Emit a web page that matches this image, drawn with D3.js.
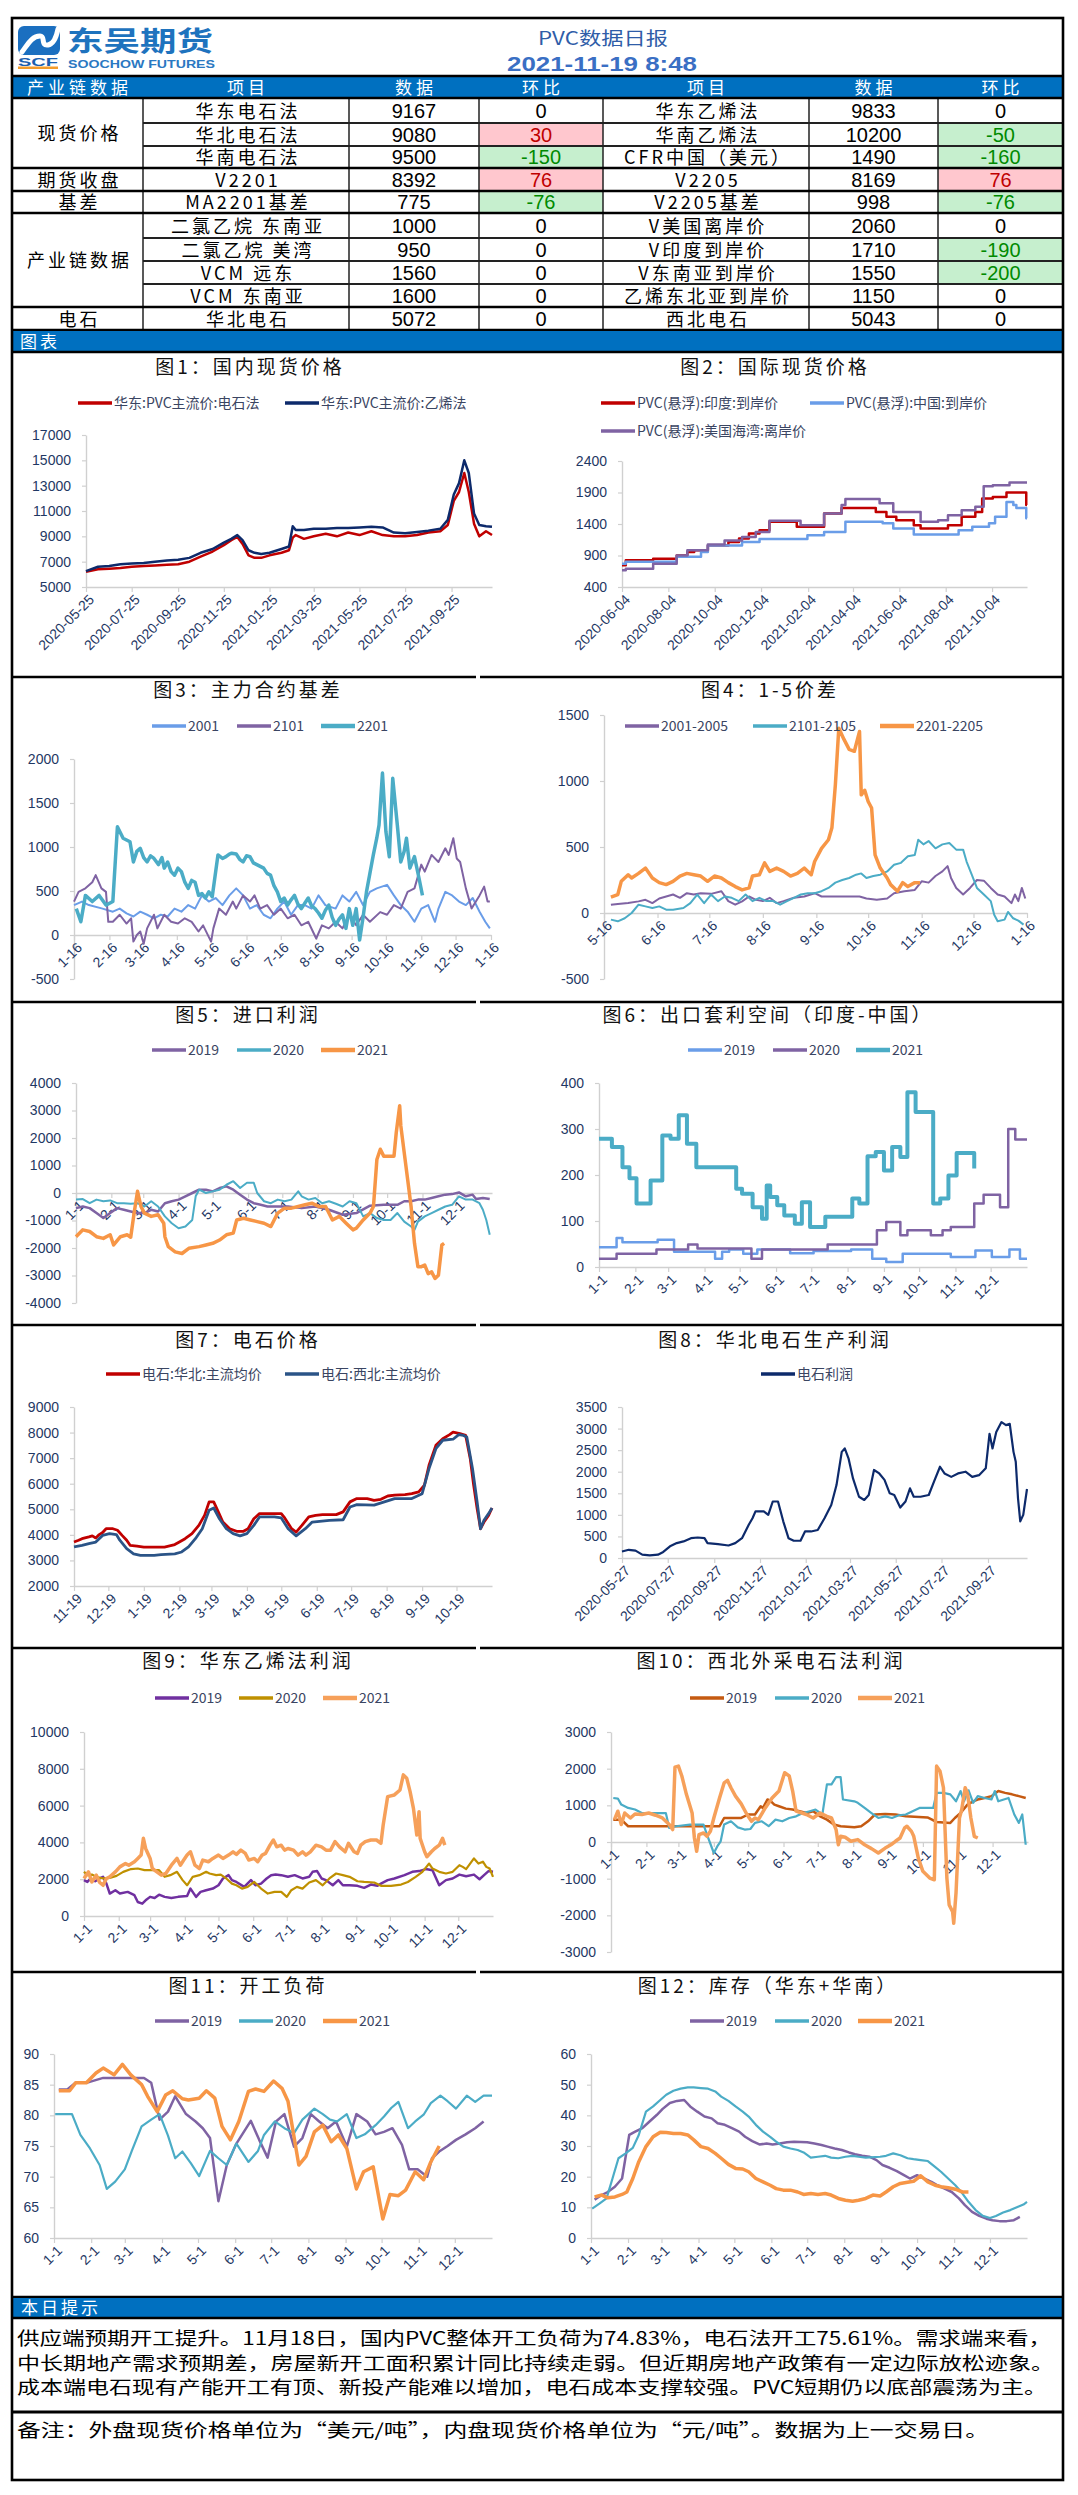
<!DOCTYPE html>
<html>
<head>
<meta charset="utf-8">
<script src="https://cdn.jsdelivr.net/npm/d3@7/dist/d3.min.js"></script>
<style>
  body { margin: 0; background: #fff; }
  svg text { font-family: "Noto Sans CJK SC", "Liberation Sans", sans-serif; }
  .num { font-family: "Liberation Sans", Arial, sans-serif; }
  .ctitle { font-size: 19px; letter-spacing: 3px; fill: #111; }
  .leg { font-size: 14px; fill: #3a4562; }
  .tk { font-family: "Liberation Sans", Arial, sans-serif; font-size: 14px; fill: #1f3864; }
</style>
</head>
<body>
<svg id="page" width="1078" height="2495"></svg>
<script>
// ---------- table data ----------
var headerLabels = ["产业链数据", "项目", "数据", "环比", "项目", "数据", "环比"];
var groupNames = [["现货价格", 0, 3], ["期货收盘", 3, 4], ["基差", 4, 5], ["产业链数据", 5, 9], ["电石", 9, 10]];
var itemsLeft = ["华东电石法", "华北电石法", "华南电石法", "V2201", "MA2201基差", "二氯乙烷 东南亚", "二氯乙烷 美湾", "VCM 远东", "VCM 东南亚", "华北电石"];
var valuesLeft = [9167, 9080, 9500, 8392, 775, 1000, 950, 1560, 1600, 5072];
var changeLeft = [0, 30, -150, 76, -76, 0, 0, 0, 0, 0];
var itemsRight = ["华东乙烯法", "华南乙烯法", "CFR中国（美元）", "V2205", "V2205基差", "V美国离岸价", "V印度到岸价", "V东南亚到岸价", "乙烯东北亚到岸价", "西北电石"];
var valuesRight = [9833, 10200, 1490, 8169, 998, 2060, 1710, 1550, 1150, 5043];
var changeRight = [0, -50, -160, 76, -76, 0, -190, -200, 0, 0];

// ---------- chart 1: 国内现货价格 (days from 2020-05-25) ----------
var c1Ticks = [0, 61, 123, 184, 245, 304, 365, 426, 488];
var c1Labels = ["2020-05-25", "2020-07-25", "2020-09-25", "2020-11-25", "2021-01-25", "2021-03-25", "2021-05-25", "2021-07-25", "2021-09-25"];
var c1Days = [0,16,31,46,61,77,92,108,123,138,153,169,184,194,202,209,217,225,234,245,261,271,276,280,291,304,320,335,350,365,381,396,411,426,442,457,473,483,491,498,505,511,518,525,534,542];
var c1Carbide = [6200,6400,6450,6500,6600,6650,6700,6750,6800,7000,7400,7800,8300,8700,8950,8400,7500,7300,7300,7500,7700,7900,8900,9100,8800,9000,9200,9000,9300,9100,9400,9100,9000,9000,9100,9300,9400,9900,11800,12500,14000,12500,10000,9000,9400,9100];
var c1Ethylene = [6250,6600,6650,6800,6850,6900,7000,7100,7150,7300,7700,8000,8500,8800,9100,8700,7900,7700,7600,7700,8000,8200,9800,9500,9500,9600,9600,9650,9650,9700,9750,9700,9300,9250,9350,9450,9600,10300,12300,13200,15000,14000,10800,9900,9800,9750];

// ---------- chart 2: 国际现货价格 (days from 2020-06-04) ----------
var c2Ticks = [0, 61, 122, 183, 245, 304, 365, 426, 487];
var c2Labels = ["2020-06-04", "2020-08-04", "2020-10-04", "2020-12-04", "2021-02-04", "2021-04-04", "2021-06-04", "2021-08-04", "2021-10-04"];
var indiaCfr = [[0,745],[5,825],[41,850],[72,900],[86,955],[95,985],[113,1060],[140,1115],[154,1170],[167,1250],[181,1300],[194,1435],[230,1355],[266,1565],[289,1655],[334,1590],[348,1515],[361,1460],[384,1380],[393,1330],[429,1380],[447,1515],[465,1590],[474,1805],[488,1830],[506,1900],[532,1700],[533,1700]];
var chinaCfr = [[0,770],[5,800],[72,880],[104,955],[113,1060],[158,1115],[181,1160],[244,1220],[266,1275],[294,1435],[343,1410],[357,1330],[384,1235],[443,1300],[461,1355],[483,1410],[491,1515],[506,1750],[515,1700],[519,1655],[532,1490],[533,1490]];
var usFob = [[0,665],[5,690],[41,770],[72,900],[86,985],[113,1075],[135,1140],[158,1195],[176,1275],[194,1450],[235,1380],[266,1565],[289,1700],[294,1795],[339,1730],[357,1590],[393,1435],[416,1460],[429,1540],[447,1620],[465,1675],[476,2000],[488,2015],[510,2060],[533,2060]];

// ---------- month-day axes ----------
var monthTicks = [0, 31, 59, 90, 120, 151, 181, 212, 243, 273, 304, 334];
var monthLabels = ["1-1", "2-1", "3-1", "4-1", "5-1", "6-1", "7-1", "8-1", "9-1", "10-1", "11-1", "12-1"];

// ---------- chart 3: 主力合约基差 ----------
var c3Ticks = [0, 31, 59, 90, 120, 151, 181, 212, 243, 273, 304, 334, 365];
var c3Labels = ["1-16", "2-16", "3-16", "4-16", "5-16", "6-16", "7-16", "8-16", "9-16", "10-16", "11-16", "12-16", "1-16"];
var basis2001 = [[0,340],[7,380],[13,340],[25,300],[34,265],[40,300],[46,245],[52,210],[58,265],[64,230],[70,190],[76,230],[82,210],[88,300],[94,265],[100,340],[106,300],[112,450],[118,380],[124,420],[130,340],[136,450],[142,530],[148,450],[154,300],[160,340],[166,230],[172,190],[178,300],[184,380],[190,230],[196,340],[202,340],[208,300],[214,450],[220,340],[229,300],[235,450],[241,380],[247,490],[253,340],[259,490],[265,530],[274,570],[280,450],[286,340],[292,265],[298,150],[304,300],[310,340],[316,150],[319,300],[325,490],[331,450],[337,380],[343,340],[349,420],[355,265],[360,150],[364,75]];
var basis2101 = [[0,380],[4,490],[10,530],[16,600],[19,680],[24,530],[28,490],[30,150],[34,150],[40,230],[46,130],[50,190],[52,-75],[55,0],[58,40],[61,-100],[64,75],[70,230],[73,75],[79,230],[85,150],[91,130],[97,190],[103,150],[109,40],[113,110],[120,-75],[122,75],[127,300],[133,230],[139,380],[142,300],[148,450],[154,380],[158,450],[163,300],[169,340],[175,230],[181,300],[187,190],[193,230],[199,110],[205,150],[212,-40],[217,110],[223,75],[229,150],[235,75],[241,230],[247,110],[253,230],[259,150],[268,260],[274,230],[280,340],[286,300],[292,490],[298,530],[304,800],[307,720],[313,910],[319,830],[325,985],[328,910],[332,1100],[335,870],[338,830],[343,530],[348,300],[355,450],[359,550],[362,380],[364,380]];
var basis2201 = [[2,300],[6,150],[10,450],[16,380],[22,450],[28,340],[34,380],[38,1230],[43,1100],[46,1080],[49,1060],[52,830],[55,950],[58,985],[61,880],[64,830],[67,900],[70,870],[74,800],[77,880],[79,760],[82,830],[85,720],[88,680],[91,760],[94,720],[97,600],[100,530],[103,620],[106,600],[109,450],[112,470],[115,420],[118,490],[121,435],[126,910],[130,870],[133,890],[136,920],[138,930],[142,920],[145,860],[148,830],[151,900],[154,890],[157,820],[160,800],[163,780],[166,760],[169,700],[172,680],[175,560],[178,490],[181,380],[184,420],[187,340],[190,400],[193,450],[196,350],[199,300],[202,360],[205,420],[208,330],[211,300],[214,250],[217,190],[220,280],[223,340],[226,200],[229,110],[232,180],[235,230],[238,75],[241,300],[244,110],[247,300],[250,-57],[253,200],[256,490],[259,700],[262,910],[265,1100],[267,1250],[270,1840],[273,1175],[276,890],[279,1780],[283,1250],[286,830],[289,950],[291,1100],[294,760],[298,890],[302,645],[305,450]];

// ---------- chart 4: 1-5价差 ----------
var c4Ticks = [0, 31, 61, 92, 123, 153, 184, 214, 245];
var c4Labels = ["5-16", "6-16", "7-16", "8-16", "9-16", "10-16", "11-16", "12-16", "1-16"];
var spread2001 = [[4,63],[8,68],[14,75],[20,88],[24,100],[28,75],[32,110],[36,125],[40,140],[44,115],[48,150],[52,140],[56,150],[62,145],[68,165],[72,90],[76,63],[80,88],[84,125],[88,100],[92,90],[96,115],[100,75],[104,90],[110,115],[116,125],[122,150],[126,125],[134,125],[142,125],[148,125],[152,110],[158,100],[164,110],[168,150],[174,165],[180,175],[184,240],[188,230],[192,280],[196,315],[199,355],[201,265],[204,190],[208,140],[212,190],[216,250],[220,245],[224,190],[228,140],[232,125],[236,75],[238,140],[240,90],[242,190],[244,110]];
var spread2101 = [[4,-50],[8,-63],[12,-40],[16,0],[20,63],[24,50],[28,38],[32,50],[36,25],[40,25],[46,38],[50,75],[54,140],[58,75],[62,140],[66,90],[70,125],[74,115],[78,90],[82,140],[86,90],[90,115],[94,90],[98,90],[102,63],[106,90],[110,115],[114,140],[118,150],[122,150],[126,165],[130,190],[134,230],[138,250],[142,265],[146,290],[149,300],[152,265],[156,280],[160,290],[164,315],[168,365],[172,380],[176,430],[180,440],[182,555],[185,520],[188,545],[192,490],[196,520],[200,530],[204,480],[208,480],[210,390],[213,290],[216,190],[220,140],[224,90],[226,-13],[228,-63],[232,-50],[234,8],[237,-40],[240,-58],[243,-88]];
var spread2201 = [[4,120],[8,140],[10,240],[14,290],[16,265],[20,300],[24,340],[28,265],[32,230],[36,215],[40,240],[44,280],[48,300],[52,290],[56,280],[60,240],[64,280],[68,265],[72,230],[76,200],[80,175],[84,190],[86,280],[90,290],[93,380],[96,315],[100,340],[104,315],[108,280],[112,300],[116,340],[120,290],[122,390],[126,490],[130,555],[132,645],[134,970],[136,1400],[139,1315],[142,1240],[145,1225],[148,1375],[149,895],[151,930],[153,845],[155,795],[157,440],[160,340],[164,265],[166,215],[170,165],[173,230],[176,200],[180,230],[183,230]];

// ---------- chart 5: 进口利润 ----------
var import2019 = [[0,-550],[6,-490],[12,-550],[18,-730],[24,-910],[30,-730],[36,-550],[42,-610],[48,-670],[54,-730],[60,-730],[66,-610],[72,-670],[78,-370],[84,-300],[90,-240],[96,-120],[102,0],[108,120],[114,120],[120,60],[126,180],[132,240],[138,120],[144,-60],[150,-240],[156,-370],[162,-430],[168,-490],[186,-490],[198,-550],[210,-490],[222,-610],[234,-790],[246,-730],[258,-460],[270,-430],[282,-430],[288,-300],[294,-300],[300,-240],[306,-240],[312,-180],[318,-120],[324,-60],[330,-40],[336,20],[342,-120],[348,-60],[351,-220],[357,-180],[363,-220]];
var import2020 = [[0,-240],[6,-220],[12,-370],[18,-240],[24,-300],[30,-270],[36,-370],[42,-370],[48,-390],[54,-370],[60,-490],[66,-300],[72,-490],[78,-850],[84,-1100],[90,-1280],[96,-1220],[102,-980],[105,-120],[108,120],[114,0],[120,60],[126,120],[132,300],[138,430],[144,180],[150,370],[156,370],[159,0],[165,-300],[171,-370],[177,-240],[183,-300],[189,-240],[195,60],[198,-120],[204,-240],[210,-180],[216,-370],[222,-300],[228,-390],[234,-490],[240,-300],[246,-370],[252,-850],[258,-730],[264,-910],[270,-980],[276,-980],[282,-730],[288,-1040],[294,-1220],[297,-1340],[300,-1040],[306,-850],[312,-730],[318,-610],[324,-490],[330,-430],[336,-120],[342,-240],[348,-240],[354,-370],[357,-610],[360,-980],[363,-1520]];
var import2021 = [[0,-1590],[6,-1340],[12,-1400],[18,-1590],[24,-1650],[30,-1520],[33,-1890],[39,-1590],[45,-1520],[48,-1610],[51,-730],[54,60],[57,-490],[60,-730],[66,-850],[72,-790],[77,-1100],[78,-1590],[81,-1950],[87,-2140],[93,-2200],[99,-2010],[108,-1950],[114,-1890],[120,-1830],[126,-1710],[132,-1520],[138,-1460],[141,-980],[147,-920],[153,-980],[159,-1040],[165,-1100],[171,-1220],[177,-730],[183,-550],[189,-550],[195,-490],[201,-430],[207,-370],[213,-490],[219,-490],[225,-980],[231,-850],[237,-1100],[243,-1340],[246,-1280],[252,-980],[258,-730],[261,-490],[264,1220],[267,1590],[270,1340],[279,1340],[281,2200],[284,3170],[285,2440],[288,1460],[291,490],[294,-490],[297,-1830],[300,-2680],[303,-2680],[306,-2620],[309,-2930],[312,-2870],[315,-3110],[318,-2990],[321,-1890],[323,-1830]];

// ---------- chart 6: 出口套利空间 (step data) ----------
var arb2019 = [[0,43],[15,63],[20,54],[50,59],[64,33],[99,18],[105,33],[111,38],[123,29],[135,38],[163,30],[183,35],[215,38],[233,18],[245,11],[259,29],[300,22],[321,36],[335,22],[350,38],[359,18],[365,18]];
var arb2020 = [[0,18],[15,29],[49,38],[76,49],[84,40],[130,18],[139,38],[195,49],[237,80],[245,98],[257,69],[263,80],[283,69],[293,80],[300,87],[320,138],[328,157],[342,130],[349,300],[355,277],[365,277]];
var arb2021 = [[0,279],[11,261],[20,217],[26,193],[32,138],[44,188],[54,286],[61,279],[68,330],[75,268],[83,217],[117,170],[122,159],[131,130],[139,105],[143,177],[146,152],[152,134],[158,112],[167,94],[173,141],[180,87],[193,109],[216,149],[222,138],[229,241],[236,250],[243,210],[250,261],[257,239],[263,380],[270,337],[285,138],[291,149],[298,199],[305,248],[320,214]];

// ---------- chart 7: 电石价格 ----------
var c7Ticks = [0, 30, 61, 92, 120, 151, 181, 212, 242, 273, 304, 334];
var c7Labels = ["11-19", "12-19", "1-19", "2-19", "3-19", "4-19", "5-19", "6-19", "7-19", "8-19", "9-19", "10-19"];
var carbideNorth = [[0,3720],[4,3790],[7,3850],[13,3920],[16,3960],[19,3880],[22,4010],[25,4090],[28,4240],[34,4240],[38,4180],[42,3980],[46,3790],[49,3590],[55,3560],[61,3520],[79,3520],[88,3620],[92,3720],[97,3850],[103,4050],[109,4370],[114,4760],[118,5290],[122,5290],[126,4900],[130,4500],[136,4240],[142,4140],[148,4140],[152,4240],[157,4630],[162,4830],[181,4830],[184,4660],[190,4240],[194,4110],[199,4370],[205,4700],[211,4760],[217,4790],[229,4790],[235,4900],[241,5290],[247,5420],[256,5420],[262,5350],[268,5390],[274,5520],[280,5550],[289,5570],[295,5610],[301,5680],[306,5940],[310,6720],[316,7500],[322,7760],[328,7920],[331,8020],[337,7960],[342,7890],[346,6980],[349,5940],[352,5030],[355,4240],[358,4500],[362,4760],[365,5050]];
var carbideNorthwest = [[0,3530],[7,3590],[13,3660],[19,3720],[25,3980],[31,4050],[37,4010],[40,3790],[46,3460],[52,3260],[58,3200],[70,3200],[76,3230],[88,3260],[94,3330],[100,3530],[106,3850],[112,4240],[118,4960],[122,5050],[127,4630],[133,4240],[139,4050],[145,3960],[151,4050],[157,4370],[162,4700],[175,4700],[181,4660],[187,4240],[194,3960],[202,4240],[208,4500],[223,4570],[235,4590],[241,5090],[247,5180],[262,5160],[271,5290],[280,5420],[295,5420],[304,5610],[310,6590],[316,7370],[322,7700],[331,7740],[336,7920],[340,7890],[343,7830],[348,6590],[352,5290],[355,4240],[358,4570],[362,4830],[365,5050]];

// ---------- chart 8: 华北电石生产利润 (days from 2020-05-27) ----------
var c8Labels = ["2020-05-27", "2020-07-27", "2020-09-27", "2020-11-27", "2021-01-27", "2021-03-27", "2021-05-27", "2021-07-27", "2021-09-27"];
var carbideProfit = [[0,150],[9,190],[18,170],[27,77],[37,60],[48,77],[55,140],[64,270],[73,345],[82,385],[92,460],[101,475],[110,460],[114,345],[128,320],[142,290],[151,345],[160,460],[169,770],[174,920],[178,1080],[189,1080],[195,1000],[201,1310],[208,1310],[215,850],[222,460],[229,400],[238,400],[244,615],[252,615],[261,650],[270,920],[279,1230],[286,1690],[293,2460],[297,2540],[302,2310],[308,1845],[316,1420],[323,1345],[329,1460],[336,2040],[343,1960],[350,1810],[357,1500],[363,1460],[371,1170],[378,1310],[384,1615],[389,1420],[398,1420],[409,1460],[416,1770],[424,2115],[430,1960],[439,1880],[448,1960],[458,2000],[467,1880],[476,1920],[485,2080],[490,2880],[494,2540],[499,2920],[506,3150],[512,3080],[517,3110],[522,2460],[525,2230],[528,1385],[531,850],[535,1000],[540,1600]];

// ---------- chart 9: 华东乙烯法利润 ----------
var eth2019 = [[0,1950],[3,1850],[6,2040],[10,1890],[14,2040],[17,2130],[20,1760],[23,1220],[28,1400],[32,1220],[39,1310],[45,1130],[48,760],[52,670],[55,850],[59,1040],[63,980],[67,1160],[72,1040],[78,980],[84,1040],[92,1090],[95,1490],[100,1040],[104,1310],[109,1400],[115,1490],[120,1670],[124,2040],[129,2220],[132,1950],[136,1850],[143,1580],[149,1950],[153,1670],[158,1760],[163,2040],[167,2220],[171,2250],[176,2220],[182,2130],[188,2220],[195,2040],[201,2130],[204,2400],[208,2440],[212,2040],[216,1950],[222,1670],[227,1950],[231,1670],[237,1670],[244,1640],[250,1530],[256,1710],[262,1640],[265,1760],[271,1950],[277,2040],[286,2220],[293,2400],[299,2440],[305,2550],[311,2490],[317,1670],[323,1950],[329,2040],[335,2250],[341,2160],[348,2250],[353,2000],[357,2220],[361,2440],[365,2400]];
var eth2020 = [[0,2400],[3,2220],[7,2250],[11,2130],[17,2040],[23,2070],[29,2180],[35,2400],[42,2550],[48,2580],[54,2490],[67,2490],[72,2130],[77,2220],[83,2400],[88,1950],[92,1670],[97,2130],[103,2220],[109,2400],[112,2310],[118,2220],[122,2250],[127,2040],[132,1760],[136,1670],[141,1490],[146,1580],[152,1850],[158,1490],[164,1220],[170,1310],[176,1310],[181,1040],[185,1400],[190,1580],[195,1490],[201,1820],[207,1950],[213,1670],[219,2040],[225,2310],[231,2220],[237,2130],[244,1890],[250,1850],[259,1820],[265,1640],[274,1640],[283,1710],[289,1850],[296,2130],[302,2400],[308,2850],[311,2580],[317,2400],[323,2310],[329,2400],[335,2760],[338,2670],[341,2550],[348,3130],[352,2850],[356,2950],[359,2670],[362,2580],[365,2130]];
var eth2021 = [[0,2040],[4,2400],[7,1850],[11,2220],[14,1820],[17,1670],[20,2040],[23,2130],[28,2400],[32,2670],[37,2850],[40,2760],[45,2950],[48,3130],[51,3310],[53,4220],[55,3670],[59,3130],[61,2580],[65,2400],[69,2220],[73,2310],[78,2760],[83,3130],[86,2760],[89,3040],[92,3310],[95,3490],[99,2760],[103,2580],[106,3040],[111,2950],[115,3130],[120,3310],[124,3130],[129,3310],[133,3490],[136,3350],[140,3580],[144,3400],[147,3040],[152,3130],[155,2950],[159,3310],[162,3400],[166,3850],[169,4130],[172,3760],[176,3850],[179,3580],[182,3670],[187,3580],[191,3310],[195,3490],[198,3310],[202,3490],[207,3850],[212,3760],[216,3580],[220,3580],[224,4040],[228,3760],[233,3490],[236,3950],[241,3490],[244,3400],[247,3850],[251,4040],[256,4130],[261,4130],[265,3950],[267,4950],[271,6490],[277,6580],[282,6850],[285,7670],[288,7490],[291,6760],[294,5850],[297,4400],[299,5670],[300,4220],[304,3490],[306,3220],[310,3490],[313,3670],[317,3850],[320,4220],[322,3850]];

// ---------- chart 10: 西北外采电石法利润 ----------
var nw2019 = [[2,610],[9,610],[15,430],[95,430],[99,655],[114,655],[120,750],[126,750],[131,975],[133,930],[137,1160],[140,1110],[143,1020],[147,975],[153,910],[159,885],[165,840],[171,790],[177,840],[183,700],[189,610],[195,475],[201,430],[213,400],[219,430],[225,565],[231,750],[240,765],[249,750],[258,700],[277,670],[281,610],[285,545],[297,520],[301,655],[306,790],[312,1020],[317,1110],[321,1160],[327,1200],[333,1250],[339,1390],[345,1340],[351,1300],[357,1250],[363,1200]];
var nw2020 = [[2,1200],[6,1185],[9,1020],[15,930],[21,885],[27,790],[48,790],[51,385],[57,430],[69,475],[81,475],[84,200],[90,-300],[93,-120],[96,20],[99,475],[105,565],[111,400],[117,340],[122,355],[126,520],[132,565],[138,430],[144,610],[150,565],[156,655],[162,700],[168,790],[174,840],[179,885],[185,750],[189,1570],[193,1570],[197,1770],[201,1770],[203,1160],[213,1110],[216,1070],[222,930],[228,790],[234,655],[240,700],[246,655],[252,730],[258,750],[264,840],[270,930],[282,930],[285,1340],[291,1340],[297,1300],[302,1110],[306,1390],[309,1110],[313,1410],[317,1070],[321,1250],[327,1200],[333,1160],[336,1390],[339,1110],[348,1200],[353,750],[357,520],[360,750],[363,-75]];
var nw2021 = [[3,610],[6,840],[9,475],[12,790],[17,655],[21,765],[27,750],[33,790],[39,730],[45,655],[51,475],[54,340],[56,2040],[59,2070],[62,1800],[66,1300],[71,790],[73,110],[75,-255],[77,200],[81,245],[84,155],[87,290],[90,655],[95,1200],[99,1610],[102,1680],[105,1480],[109,1250],[114,1040],[119,750],[123,565],[126,655],[129,610],[135,930],[141,1200],[147,1390],[152,1890],[156,1800],[159,1390],[162,840],[167,790],[171,750],[177,655],[183,790],[189,700],[193,655],[197,340],[199,-75],[201,155],[205,130],[210,20],[216,65],[222,-75],[228,-180],[234,-300],[240,-165],[245,-75],[249,20],[253,110],[257,385],[259,430],[263,290],[265,155],[269,-440],[273,-800],[279,-985],[283,-1030],[285,2070],[288,1930],[291,1480],[294,-985],[296,-1715],[299,-1900],[300,-2215],[302,-1390],[305,655],[307,885],[310,1480],[312,1340],[315,655],[318,155],[321,110]];

// ---------- chart 11: 开工负荷 ----------
var load2019 = [[4,84.2],[11,84.2],[18,85.3],[27,85.3],[41,86.1],[75,86.1],[81,85.3],[88,79.3],[95,80.6],[101,83.1],[110,80.2],[118,79.0],[124,77.9],[130,76.3],[137,66.0],[144,71.9],[152,75.4],[164,79.1],[171,76.0],[178,73.1],[185,79.0],[192,80.2],[200,74.9],[207,76.3],[214,80.2],[221,79.0],[228,77.9],[235,79.0],[244,74.9],[252,80.2],[261,79.0],[268,76.9],[275,77.3],[282,77.9],[290,75.2],[296,71.2],[303,71.2],[311,70.0],[315,73.0],[321,74.1],[328,75.0],[335,76.0],[343,76.9],[351,77.9],[358,79.0]];
var load2020 = [[1,80.2],[15,80.2],[22,76.8],[30,74.6],[38,71.9],[44,68.0],[51,69.2],[59,71.2],[65,74.3],[73,78.2],[81,79.3],[88,80.2],[95,76.7],[101,73.0],[107,74.1],[114,72.2],[121,70.1],[130,74.2],[137,73.0],[144,71.9],[152,75.4],[162,72.4],[170,74.2],[175,76.8],[184,79.0],[192,77.9],[200,77.1],[207,79.3],[217,81.1],[224,80.2],[230,79.3],[236,79.0],[244,80.2],[252,76.3],[259,76.9],[268,78.4],[275,79.8],[281,81.2],[287,82.2],[295,77.9],[301,79.0],[308,80.1],[314,82.0],[322,83.2],[328,82.3],[335,81.1],[344,83.2],[351,82.2],[358,83.2],[365,83.2]];
var load2021 = [[4,84.0],[13,84.0],[18,85.3],[27,85.3],[35,86.9],[41,87.7],[50,86.6],[57,88.3],[64,86.6],[73,85.0],[78,83.1],[86,80.6],[93,83.3],[99,84.0],[107,82.7],[112,82.5],[121,82.8],[127,84.0],[134,82.8],[140,78.2],[147,76.0],[154,79.0],[162,83.9],[168,84.3],[175,83.9],[183,85.6],[190,84.4],[195,82.3],[204,71.9],[210,73.3],[217,77.3],[224,78.4],[231,75.7],[237,76.8],[244,74.6],[252,68.0],[258,70.8],[266,71.6],[274,63.1],[280,67.1],[287,66.9],[293,67.8],[301,70.8],[308,69.5],[314,72.4],[321,75.0]];

// ---------- chart 12: 库存（华东+华南） ----------
var inv2019 = [[3,12.5],[9,14.0],[14,15.0],[20,16.7],[26,19.4],[32,33.6],[37,34.7],[43,35.8],[49,38.0],[55,40.1],[60,42.1],[66,44.0],[72,44.7],[78,45.0],[83,42.9],[89,41.2],[95,39.6],[101,39.0],[106,37.4],[112,36.9],[118,35.8],[124,34.7],[129,33.0],[135,31.6],[141,30.5],[147,30.8],[152,30.5],[158,30.8],[164,31.2],[170,31.4],[181,31.2],[187,30.8],[193,30.3],[198,29.8],[204,29.2],[210,28.7],[216,27.9],[221,27.3],[227,26.8],[233,26.5],[239,25.4],[244,23.8],[250,22.9],[256,21.8],[262,20.5],[267,19.4],[273,20.5],[279,19.4],[285,18.3],[290,17.2],[296,16.1],[302,15.0],[308,12.9],[313,10.7],[319,8.5],[325,7.2],[331,6.3],[336,5.8],[342,5.5],[348,5.5],[354,5.8],[359,6.9]];
var inv2020 = [[1,9.6],[7,11.2],[13,12.9],[18,19.4],[23,26.0],[29,27.6],[35,29.4],[40,33.6],[46,41.2],[52,42.9],[58,45.0],[63,46.7],[69,48.0],[75,48.7],[81,49.1],[86,49.1],[92,48.9],[98,48.7],[104,47.8],[109,46.1],[115,44.7],[121,42.9],[127,41.2],[132,39.6],[138,36.9],[144,34.7],[150,33.0],[155,31.4],[161,29.8],[167,29.2],[173,28.7],[178,27.9],[184,26.2],[190,26.5],[196,26.8],[201,26.2],[207,26.0],[213,26.5],[219,26.8],[224,26.5],[230,26.2],[242,26.5],[247,26.8],[253,27.6],[259,27.0],[265,26.0],[270,25.7],[276,25.4],[282,25.1],[288,23.2],[293,21.6],[299,19.4],[305,17.2],[311,14.5],[316,11.8],[322,9.1],[328,7.2],[334,6.5],[339,7.2],[345,8.3],[351,9.1],[357,10.1],[362,10.9],[365,11.8]];
var inv2021 = [[3,13.4],[9,14.0],[14,13.1],[20,13.4],[26,14.2],[30,15.0],[35,19.4],[40,24.9],[46,29.8],[52,33.0],[58,34.5],[63,34.4],[69,34.1],[75,34.1],[81,33.6],[86,32.0],[92,29.8],[98,29.2],[104,27.6],[109,26.0],[115,24.0],[121,22.7],[127,22.5],[132,21.6],[138,19.4],[144,18.3],[150,17.2],[155,16.1],[161,15.6],[167,15.6],[173,15.0],[178,14.2],[184,14.5],[190,14.2],[196,14.5],[201,14.0],[207,12.9],[213,12.3],[219,12.0],[224,12.3],[230,12.9],[236,14.0],[242,13.7],[247,15.0],[253,16.7],[259,17.8],[265,18.2],[270,18.5],[276,20.3],[282,18.3],[288,17.2],[293,16.7],[299,16.4],[305,15.9],[311,15.0],[316,15.0]];

// ---------- bottom texts ----------
var noteLines = [
  "供应端预期开工提升。11月18日，国内PVC整体开工负荷为74.83%，电石法开工75.61%。需求端来看，",
  "中长期地产需求预期差，房屋新开工面积累计同比持续走弱。但近期房地产政策有一定边际放松迹象。",
  "成本端电石现有产能开工有顶、新投产能难以增加，电石成本支撑较强。PVC短期仍以底部震荡为主。"
];
var remarkText = "备注：外盘现货价格单位为“美元/吨”，内盘现货价格单位为“元/吨”。数据为上一交易日。";

// ================= drawing =================
var svg = d3.select("#page");
svg.append("rect").attr("width", 1078).attr("height", 2495).attr("fill", "#fff");
var BLUE = "#0070c0";

function hline(x1, x2, y, w, c) {
  svg.append("line").attr("x1", x1).attr("x2", x2).attr("y1", y).attr("y2", y)
    .attr("stroke", c || "#000").attr("stroke-width", w);
}
function vline(x, y1, y2, w, c) {
  svg.append("line").attr("x1", x).attr("x2", x).attr("y1", y1).attr("y2", y2)
    .attr("stroke", c || "#000").attr("stroke-width", w);
}

// header: logo
var logo = svg.append("g");
logo.append("rect").attr("x", 18).attr("y", 26).attr("width", 42).attr("height", 29).attr("rx", 6).attr("fill", "#1b6fc0");
logo.append("path").attr("d", "M22 52 C28 44, 32 36, 40 36 C46 36, 40 46, 48 45 C54 44, 57 34, 58 29")
  .attr("stroke", "#fff").attr("stroke-width", 5).attr("fill", "none").attr("stroke-linecap", "round");
logo.append("text").attr("x", 18).attr("y", 65.5).attr("textLength", 40).attr("lengthAdjust", "spacingAndGlyphs")
  .attr("class", "num").style("font-size", "11px").style("font-weight", "bold").attr("fill", "#1b5fb0").text("SCF");
logo.append("rect").attr("x", 18).attr("y", 66.5).attr("width", 40).attr("height", 2.5).attr("fill", "#f39c2b");
logo.append("text").attr("x", 67).attr("y", 51).attr("textLength", 146).attr("lengthAdjust", "spacingAndGlyphs")
  .style("font-size", "27px").style("font-weight", "bold").attr("fill", "#1e73be").text("东吴期货");
logo.append("text").attr("x", 68).attr("y", 68).attr("textLength", 147).attr("lengthAdjust", "spacingAndGlyphs")
  .attr("class", "num").style("font-size", "11px").style("font-weight", "bold").attr("fill", "#2a78c2").text("SOOCHOW FUTURES");

svg.append("text").attr("x", 538).attr("y", 45).attr("textLength", 130).attr("lengthAdjust", "spacingAndGlyphs")
  .style("font-size", "18px").attr("fill", "#2f5da8").text("PVC数据日报");
svg.append("text").attr("x", 507).attr("y", 71).attr("textLength", 190).attr("lengthAdjust", "spacingAndGlyphs")
  .attr("class", "num").style("font-size", "21px").style("font-weight", "bold").attr("fill", "#3a6fc4").text("2021-11-19 8:48");

// table
var colX = [12, 143, 349, 479, 603, 809, 938, 1063];
var rowY = [98, 123, 146, 168, 191, 213, 238, 261, 284, 307, 330];
svg.append("rect").attr("x", 12).attr("y", 76).attr("width", 1051).attr("height", 22).attr("fill", BLUE);
headerLabels.forEach(function(t, i) {
  svg.append("text").attr("x", (colX[i] + colX[i + 1]) / 2 + 2).attr("y", 94).attr("text-anchor", "middle")
    .style("font-size", "17px").style("letter-spacing", "4px").attr("fill", "#fff").text(t);
});
function cellText(t, cx, cy, color) {
  var isNum = typeof t === "number";
  svg.append("text").attr("x", cx + (isNum ? 0 : 2)).attr("y", cy + 7).attr("text-anchor", "middle")
    .attr("class", isNum ? "num" : null)
    .style("font-size", isNum ? "20px" : "18px").style("letter-spacing", isNum ? "0px" : "3px")
    .attr("fill", color || "#000").text(t);
}
function changeCell(v, ci, r) {
  var top = rowY[r], bot = rowY[r + 1];
  var color = "#000";
  if (v > 0) {
    svg.append("rect").attr("x", colX[ci]).attr("y", top).attr("width", colX[ci + 1] - colX[ci]).attr("height", bot - top).attr("fill", "#ffc7ce");
    color = "#c00000";
  } else if (v < 0) {
    svg.append("rect").attr("x", colX[ci]).attr("y", top).attr("width", colX[ci + 1] - colX[ci]).attr("height", bot - top).attr("fill", "#c6efce");
    color = "#008a00";
  }
  cellText(v, (colX[ci] + colX[ci + 1]) / 2, (top + bot) / 2, color);
}
for (var r = 0; r < 10; r++) {
  var mid = (rowY[r] + rowY[r + 1]) / 2;
  changeCell(changeLeft[r], 3, r);
  changeCell(changeRight[r], 6, r);
  cellText(itemsLeft[r], (colX[1] + colX[2]) / 2, mid);
  cellText(valuesLeft[r], (colX[2] + colX[3]) / 2, mid);
  cellText(itemsRight[r], (colX[4] + colX[5]) / 2, mid);
  cellText(valuesRight[r], (colX[5] + colX[6]) / 2, mid);
}
groupNames.forEach(function(g) {
  cellText(g[0], (colX[0] + colX[1]) / 2, (rowY[g[1]] + rowY[g[2]]) / 2);
});
[123, 146, 238, 261, 284].forEach(function(y) { hline(143, 1063, y, 1.8, "#222"); });
for (var c = 1; c < 7; c++) vline(colX[c], 98, 330, 1.5, "#222");
[76, 98, 168, 191, 213, 307, 330].forEach(function(y) { hline(12, 1063, y, 2.6); });

// section bars
svg.append("rect").attr("x", 12).attr("y", 331).attr("width", 1051).attr("height", 21).attr("fill", BLUE);
svg.append("text").attr("x", 20).attr("y", 348).style("font-size", "17px").style("letter-spacing", "3px").attr("fill", "#fff").text("图表");
hline(12, 1063, 352, 2.6);

// ---------- chart renderer ----------
function drawChart(c) {
  var g = svg.append("g");
  var x = d3.scaleLinear().domain(c.xDomain).range([c.left, c.right]);
  var y = d3.scaleLinear().domain(c.yDomain).range([c.bottom, c.top]);
  g.append("text").attr("class", "ctitle").attr("x", c.titleX).attr("y", c.titleY).attr("text-anchor", "middle").text(c.title);

  var ya = g.append("g").attr("transform", "translate(" + c.left + ",0)")
    .call(d3.axisLeft(y).tickValues(c.yTicks).tickFormat(function(d) { return String(d); })
      .tickSize(4).tickSizeOuter(0).tickPadding(11));
  var base = y(c.xAt !== undefined ? c.xAt : c.yDomain[0]);
  var xa = g.append("g").attr("transform", "translate(0," + base + ")")
    .call(d3.axisBottom(x).tickValues(c.xTicks).tickFormat(function(d, i) { return c.xLabels[i]; }).tickSize(5).tickSizeOuter(0));
  [ya, xa].forEach(function(a) {
    a.attr("font-family", null).attr("font-size", null);
    a.select(".domain").attr("stroke", "#d0d0d0").attr("stroke-width", 1.4);
    a.selectAll(".tick line").attr("stroke", "#d0d0d0").attr("stroke-width", 1.2);
    a.selectAll(".tick text").attr("class", "tk").attr("fill", "#1f3864");
  });
  xa.selectAll(".tick text").attr("text-anchor", "end").attr("x", null).attr("y", null)
    .attr("dy", "0.35em").attr("transform", "translate(5,10) rotate(-45)");

  c.series.forEach(function(s) {
    var line = d3.line().x(function(d) { return x(d[0]); }).y(function(d) { return y(d[1]); })
      .curve(s.step ? d3.curveStepAfter : d3.curveLinear);
    g.append("path").datum(s.data).attr("d", line).attr("fill", "none")
      .attr("stroke", s.color).attr("stroke-width", s.width).attr("stroke-linejoin", "round");
  });
  c.legend.forEach(function(p, i) {
    var s = c.series[i];
    g.append("line").attr("x1", p[0]).attr("x2", p[0] + 34).attr("y1", p[1]).attr("y2", p[1])
      .attr("stroke", s.color).attr("stroke-width", s.width > 3 ? 4.5 : 3.5);
    g.append("text").attr("class", "leg").attr("x", p[0] + 36).attr("y", p[1] + 5).text(s.name);
  });
}

function pairs(xs, vs) { return xs.map(function(d, i) { return [d, vs[i]]; }); }

var RED = "#c00000", NAVY = "#0d2a6b", LBLUE = "#6a9de8", PURPLE = "#7f63a3", TEAL = "#4bacc6", ORANGE = "#f79646";

drawChart({ title: "图1：国内现货价格", titleX: 250, titleY: 374,
  left: 86, right: 492, top: 435, bottom: 587, xDomain: [0, 542], yDomain: [5000, 17000],
  yTicks: [5000, 7000, 9000, 11000, 13000, 15000, 17000], xTicks: c1Ticks, xLabels: c1Labels,
  series: [
    { name: "华东:PVC主流价:电石法", color: RED, width: 2.5, data: pairs(c1Days, c1Carbide) },
    { name: "华东:PVC主流价:乙烯法", color: NAVY, width: 2.5, data: pairs(c1Days, c1Ethylene) }],
  legend: [[78, 403], [285, 403]] });

drawChart({ title: "图2：国际现货价格", titleX: 775, titleY: 374,
  left: 622, right: 1027, top: 461, bottom: 587, xDomain: [0, 533], yDomain: [400, 2400],
  yTicks: [400, 900, 1400, 1900, 2400], xTicks: c2Ticks, xLabels: c2Labels,
  series: [
    { name: "PVC(悬浮):印度:到岸价", color: RED, width: 2.5, data: indiaCfr, step: true },
    { name: "PVC(悬浮):中国:到岸价", color: LBLUE, width: 2.5, data: chinaCfr, step: true },
    { name: "PVC(悬浮):美国海湾:离岸价", color: PURPLE, width: 2.5, data: usFob, step: true }],
  legend: [[601, 403], [810, 403], [601, 431]] });

drawChart({ title: "图3：主力合约基差", titleX: 248, titleY: 697,
  left: 74, right: 491, top: 759, bottom: 979, xDomain: [0, 365], yDomain: [-500, 2000], xAt: 0,
  yTicks: [-500, 0, 500, 1000, 1500, 2000], xTicks: c3Ticks, xLabels: c3Labels,
  series: [
    { name: "2001", color: LBLUE, width: 2, data: basis2001 },
    { name: "2101", color: PURPLE, width: 2, data: basis2101 },
    { name: "2201", color: TEAL, width: 3.5, data: basis2201 }],
  legend: [[152, 726], [237, 726], [321, 726]] });

drawChart({ title: "图4：1-5价差", titleX: 770, titleY: 697,
  left: 604, right: 1027, top: 715, bottom: 979, xDomain: [0, 245], yDomain: [-500, 1500], xAt: 0,
  yTicks: [-500, 0, 500, 1000, 1500], xTicks: c4Ticks, xLabels: c4Labels,
  series: [
    { name: "2001-2005", color: PURPLE, width: 2, data: spread2001 },
    { name: "2101-2105", color: TEAL, width: 2, data: spread2101 },
    { name: "2201-2205", color: ORANGE, width: 3.5, data: spread2201 }],
  legend: [[625, 726], [753, 726], [880, 726]] });

drawChart({ title: "图5：进口利润", titleX: 248, titleY: 1022,
  left: 76, right: 492, top: 1083, bottom: 1303, xDomain: [0, 365], yDomain: [-4000, 4000], xAt: 0,
  yTicks: [-4000, -3000, -2000, -1000, 0, 1000, 2000, 3000, 4000], xTicks: monthTicks, xLabels: monthLabels,
  series: [
    { name: "2019", color: PURPLE, width: 2.5, data: import2019 },
    { name: "2020", color: TEAL, width: 2, data: import2020 },
    { name: "2021", color: ORANGE, width: 3.5, data: import2021 }],
  legend: [[152, 1050], [237, 1050], [321, 1050]] });

drawChart({ title: "图6：出口套利空间（印度-中国）", titleX: 768, titleY: 1022,
  left: 599, right: 1027, top: 1083, bottom: 1267, xDomain: [0, 365], yDomain: [0, 400],
  yTicks: [0, 100, 200, 300, 400], xTicks: monthTicks, xLabels: monthLabels,
  series: [
    { name: "2019", color: LBLUE, width: 2.5, data: arb2019, step: true },
    { name: "2020", color: PURPLE, width: 2.5, data: arb2020, step: true },
    { name: "2021", color: TEAL, width: 4, data: arb2021, step: true }],
  legend: [[688, 1050], [773, 1050], [856, 1050]] });

drawChart({ title: "图7：电石价格", titleX: 248, titleY: 1347,
  left: 74, right: 492, top: 1407, bottom: 1586, xDomain: [0, 365], yDomain: [2000, 9000],
  yTicks: [2000, 3000, 4000, 5000, 6000, 7000, 8000, 9000], xTicks: c7Ticks, xLabels: c7Labels,
  series: [
    { name: "电石:华北:主流均价", color: RED, width: 2.8, data: carbideNorth },
    { name: "电石:西北:主流均价", color: "#2b5487", width: 2.8, data: carbideNorthwest }],
  legend: [[106, 1374], [285, 1374]] });

drawChart({ title: "图8：华北电石生产利润", titleX: 775, titleY: 1347,
  left: 622, right: 1027, top: 1407, bottom: 1558, xDomain: [0, 540], yDomain: [0, 3500],
  yTicks: [0, 500, 1000, 1500, 2000, 2500, 3000, 3500], xTicks: c1Ticks, xLabels: c8Labels,
  series: [{ name: "电石利润", color: NAVY, width: 2.2, data: carbideProfit }],
  legend: [[761, 1374]] });

drawChart({ title: "图9：华东乙烯法利润", titleX: 248, titleY: 1668,
  left: 84, right: 493, top: 1732, bottom: 1916, xDomain: [0, 365], yDomain: [0, 10000],
  yTicks: [0, 2000, 4000, 6000, 8000, 10000], xTicks: monthTicks, xLabels: monthLabels,
  series: [
    { name: "2019", color: "#7030a0", width: 2.5, data: eth2019 },
    { name: "2020", color: "#bf9000", width: 2.2, data: eth2020 },
    { name: "2021", color: "#f6a05a", width: 3.5, data: eth2021 }],
  legend: [[155, 1698], [239, 1698], [323, 1698]] });

drawChart({ title: "图10：西北外采电石法利润", titleX: 771, titleY: 1668,
  left: 611, right: 1028, top: 1732, bottom: 1952, xDomain: [0, 365], yDomain: [-3000, 3000], xAt: 0,
  yTicks: [-3000, -2000, -1000, 0, 1000, 2000, 3000], xTicks: monthTicks, xLabels: monthLabels,
  series: [
    { name: "2019", color: "#c55a11", width: 2.5, data: nw2019 },
    { name: "2020", color: TEAL, width: 2.2, data: nw2020 },
    { name: "2021", color: "#f6a05a", width: 3.5, data: nw2021 }],
  legend: [[690, 1698], [775, 1698], [858, 1698]] });

drawChart({ title: "图11：开工负荷", titleX: 248, titleY: 1993,
  left: 54, right: 492, top: 2054, bottom: 2238, xDomain: [0, 365], yDomain: [60, 90],
  yTicks: [60, 65, 70, 75, 80, 85, 90], xTicks: monthTicks, xLabels: monthLabels,
  series: [
    { name: "2019", color: PURPLE, width: 2.5, data: load2019 },
    { name: "2020", color: TEAL, width: 2.2, data: load2020 },
    { name: "2021", color: ORANGE, width: 3.5, data: load2021 }],
  legend: [[155, 2021], [239, 2021], [323, 2021]] });

drawChart({ title: "图12：库存（华东+华南）", titleX: 768, titleY: 1993,
  left: 591, right: 1027, top: 2054, bottom: 2238, xDomain: [0, 365], yDomain: [0, 60],
  yTicks: [0, 10, 20, 30, 40, 50, 60], xTicks: monthTicks, xLabels: monthLabels,
  series: [
    { name: "2019", color: PURPLE, width: 2.5, data: inv2019 },
    { name: "2020", color: TEAL, width: 2.2, data: inv2020 },
    { name: "2021", color: ORANGE, width: 3.5, data: inv2021 }],
  legend: [[690, 2021], [775, 2021], [858, 2021]] });

// chart row separators (with small gap at the middle divider)
[677, 1002, 1325, 1648, 1972].forEach(function(y) {
  hline(12, 476, y, 2.6);
  hline(480, 1063, y, 2.6);
});

// bottom notes
hline(12, 1063, 2297, 2.6);
svg.append("rect").attr("x", 12).attr("y", 2298).attr("width", 1051).attr("height", 20).attr("fill", BLUE);
svg.append("text").attr("x", 21).attr("y", 2314).style("font-size", "17px").style("letter-spacing", "3px").attr("fill", "#fff").text("本日提示");
hline(12, 1063, 2318, 2.6);
var lineWidths = [1034, 1037, 1030];
noteLines.forEach(function(t, i) {
  svg.append("text").attr("x", 17).attr("y", 2345 + i * 24.5).attr("textLength", lineWidths[i]).attr("lengthAdjust", "spacingAndGlyphs")
    .style("font-size", "18px").attr("fill", "#000").text(t);
});
hline(12, 1063, 2412, 3);
svg.append("text").attr("x", 17).attr("y", 2437).attr("textLength", 972).attr("lengthAdjust", "spacingAndGlyphs")
  .style("font-size", "18px").attr("fill", "#000").text(remarkText);

// outer frame
svg.append("rect").attr("x", 12).attr("y", 18).attr("width", 1051).attr("height", 2462)
  .attr("fill", "none").attr("stroke", "#000").attr("stroke-width", 2.6);
</script>
</body>
</html>
